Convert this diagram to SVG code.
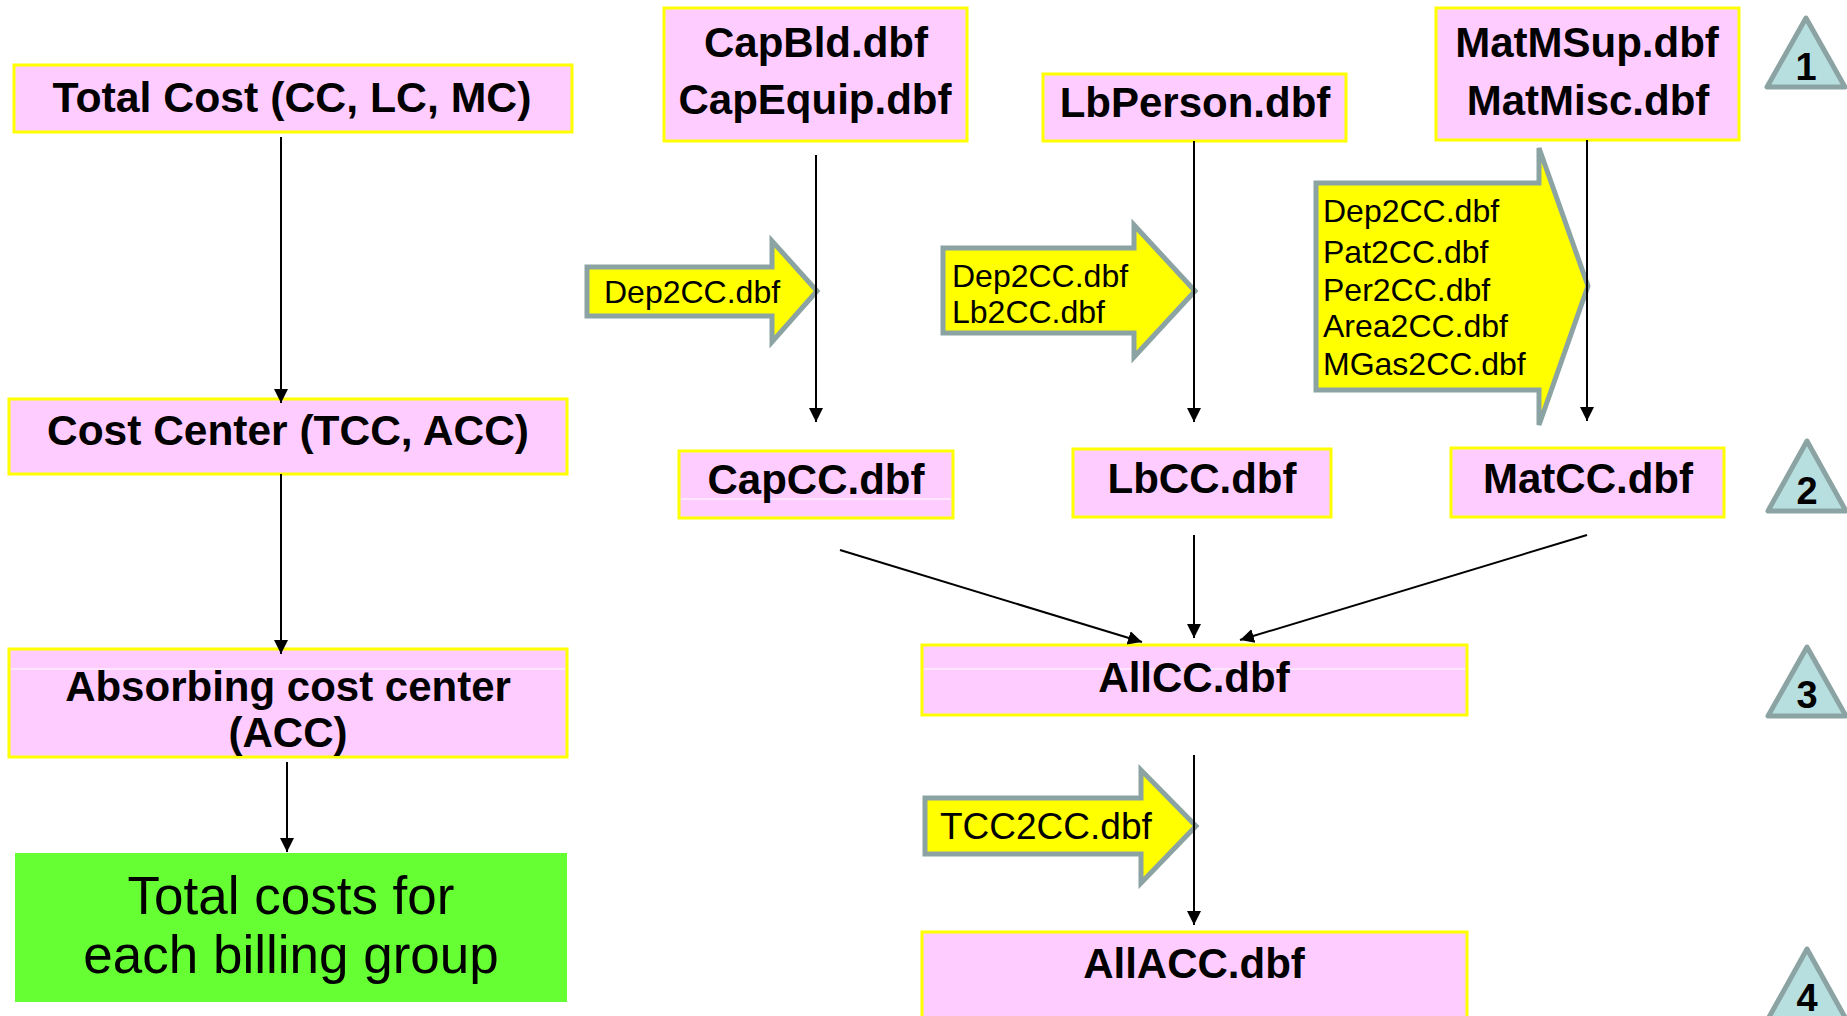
<svg xmlns="http://www.w3.org/2000/svg" width="1847" height="1016" viewBox="0 0 1847 1016">
<style>
.box{fill:#FFCCFF;stroke:#FFFF00;stroke-width:3}
.b{font-family:"Liberation Sans",Arial,sans-serif;font-weight:bold;font-size:42px;fill:#000;text-anchor:middle}
.r{font-family:"Liberation Sans",Arial,sans-serif;font-size:32px;fill:#000}
.blk{fill:#FFFF00;stroke:#8CA3A3;stroke-width:5}
.tri{fill:#B8DFE0;stroke:#8CA3A3;stroke-width:5;stroke-linejoin:round}
.d{font-family:"Liberation Sans",Arial,sans-serif;font-weight:bold;font-size:38px;fill:#000;text-anchor:middle}
.ln{stroke:#000;stroke-width:2;fill:none;marker-end:url(#ah)}
.wl{stroke:#FFFFFF;stroke-width:1}
</style>
<defs>
<marker id="ah" markerWidth="14" markerHeight="16" refX="14" refY="8" orient="auto" markerUnits="userSpaceOnUse" viewBox="0 0 14 16">
<path d="M0,1 L14,8 L0,15 z" fill="#000"/>
</marker>
</defs>
<rect width="1847" height="1016" fill="#FFFFFF"/>

<g id="total-cost"><rect class="box" x="14" y="65" width="558" height="67"/><text class="b" x="292" y="112" textLength="479" lengthAdjust="spacingAndGlyphs">Total Cost (CC, LC, MC)</text></g>
<g id="cost-center"><rect class="box" x="9" y="399" width="558" height="75"/><text class="b" x="288" y="445" textLength="482" lengthAdjust="spacingAndGlyphs">Cost Center (TCC, ACC)</text></g>
<g id="absorbing"><rect class="box" x="9" y="649" width="558" height="108"/><line class="wl" x1="11" y1="669" x2="565" y2="669"/><text class="b" x="288" y="701">Absorbing cost center</text><text class="b" x="288" y="747">(ACC)</text></g>
<g id="total-costs-billing"><rect x="15" y="853" width="552" height="149" fill="#66FF33"/><text x="291" y="914" font-family="Liberation Sans, Arial, sans-serif" font-size="53" text-anchor="middle">Total costs for</text><text x="291" y="973" font-family="Liberation Sans, Arial, sans-serif" font-size="53" text-anchor="middle">each billing group</text></g>

<g id="capbld"><rect class="box" x="664" y="8" width="303" height="133"/><text class="b" x="816" y="57">CapBld.dbf</text><text class="b" x="815" y="114">CapEquip.dbf</text></g>
<g id="lbperson"><rect class="box" x="1043" y="74" width="303" height="67"/><text class="b" x="1195" y="117">LbPerson.dbf</text></g>
<g id="matmsup"><rect class="box" x="1436" y="8" width="303" height="132"/><text class="b" x="1587" y="57">MatMSup.dbf</text><text class="b" x="1588" y="115">MatMisc.dbf</text></g>

<g id="dep2cc-1"><polygon class="blk" points="587,267 772,267 772,241 817,291 772,342 772,316 587,316"/><text class="r" x="604" y="303">Dep2CC.dbf</text></g>
<g id="dep2cc-lb2cc"><polygon class="blk" points="943,248 1134,248 1134,225 1195,291 1134,357 1134,333 943,333"/><text class="r" x="952" y="287">Dep2CC.dbf</text><text class="r" x="952" y="323">Lb2CC.dbf</text></g>
<g id="mat-keys"><polygon class="blk" points="1316,183 1539,183 1539,148 1588,286 1539,425 1539,390 1316,390"/><text class="r" x="1323" y="222">Dep2CC.dbf</text><text class="r" x="1323" y="263">Pat2CC.dbf</text><text class="r" x="1323" y="301">Per2CC.dbf</text><text class="r" x="1323" y="337">Area2CC.dbf</text><text class="r" x="1323" y="375">MGas2CC.dbf</text></g>

<g id="capcc"><rect class="box" x="679" y="451" width="274" height="67"/><line class="wl" x1="681" y1="499" x2="951" y2="499"/><text class="b" x="816" y="494">CapCC.dbf</text></g>
<g id="lbcc"><rect class="box" x="1073" y="449" width="258" height="68"/><text class="b" x="1202" y="493">LbCC.dbf</text></g>
<g id="matcc"><rect class="box" x="1451" y="448" width="273" height="69"/><text class="b" x="1588" y="493">MatCC.dbf</text></g>

<g id="allcc"><rect class="box" x="922" y="645" width="545" height="70"/><line class="wl" x1="924" y1="669" x2="1465" y2="669"/><text class="b" x="1194" y="692">AllCC.dbf</text></g>
<g id="tcc2cc"><polygon class="blk" points="925,798 1141,798 1141,770 1196,826 1141,883 1141,854 925,854"/><text x="940" y="839" font-family="Liberation Sans, Arial, sans-serif" font-size="37">TCC2CC.dbf</text></g>
<g id="allacc"><rect class="box" x="922" y="932" width="545" height="90"/><text class="b" x="1194" y="978">AllACC.dbf</text></g>

<g id="step1"><polygon class="tri" points="1806,18 1767,87 1845,87"/><text class="d" x="1806" y="80">1</text></g>
<g id="step2"><polygon class="tri" points="1807,441 1768,511 1846,511"/><text class="d" x="1807" y="504">2</text></g>
<g id="step3"><polygon class="tri" points="1807,647 1768,716 1846,716"/><text class="d" x="1807" y="708">3</text></g>
<g id="step4"><polygon class="tri" points="1807,949 1768,1019 1846,1019"/><text class="d" x="1807" y="1011">4</text></g>

<g id="connectors">
<line class="ln" x1="281" y1="137" x2="281" y2="403"/>
<line class="ln" x1="281" y1="474" x2="281" y2="654"/>
<line class="ln" x1="287" y1="762" x2="287" y2="852"/>
<line class="ln" x1="816" y1="155" x2="816" y2="422"/>
<line class="ln" x1="1194" y1="141" x2="1194" y2="422"/>
<line class="ln" x1="1587" y1="140" x2="1587" y2="421"/>
<line class="ln" x1="840" y1="550" x2="1142" y2="642"/>
<line class="ln" x1="1194" y1="535" x2="1194" y2="638"/>
<line class="ln" x1="1587" y1="535" x2="1240" y2="640"/>
<line class="ln" x1="1194" y1="755" x2="1194" y2="925"/>
</g>
</svg>
